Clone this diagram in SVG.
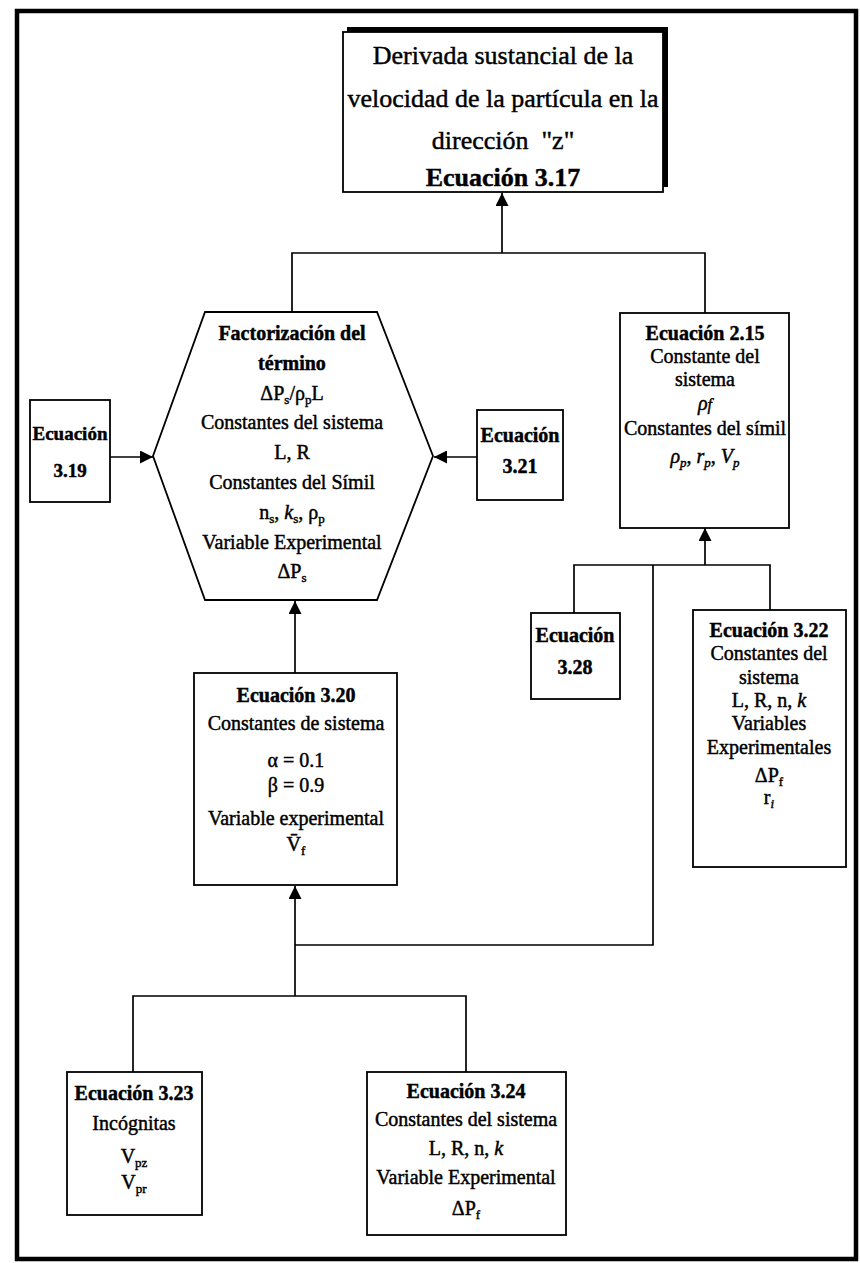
<svg xmlns="http://www.w3.org/2000/svg" width="860" height="1263" viewBox="0 0 860 1263">
  <defs>
    <marker id="arr" viewBox="0 0 10 10" refX="10" refY="5" markerWidth="16" markerHeight="13" markerUnits="userSpaceOnUse" orient="auto">
      <path d="M0,0 L10,5 L0,10 z" fill="#000"/>
    </marker>
    <style>
      .t { font-family: "Liberation Serif", "Times New Roman", serif; font-size: 20px; text-anchor: middle; fill: #000; stroke: #000; stroke-width: 0.45; }
      .b { font-weight: bold; }
      .h { font-size: 26px; }
      .box { fill: #fff; stroke: #000; stroke-width: 1.8; }
      .con { fill: none; stroke: #000; stroke-width: 1.7; }
      .s { font-size: 13px; }
      .i { font-style: italic; }
    </style>
  </defs>

  <rect x="0" y="0" width="860" height="1263" fill="#fff"/>
  <!-- outer frame -->
  <rect x="17" y="11" width="839" height="1248" fill="none" stroke="#000" stroke-width="4.5"/>

  <!-- connectors -->
  <g id="connectors">
    <path class="con" d="M502,253 V193" marker-end="url(#arr)"/>
    <path class="con" d="M292,312 V253 H705 V313"/>
    <path class="con" d="M110,457 H153" marker-end="url(#arr)"/>
    <path class="con" d="M477,457 H434" marker-end="url(#arr)"/>
    <path class="con" d="M705,565 V528" marker-end="url(#arr)"/>
    <path class="con" d="M574,613 V565 H770 V610"/>
    <path class="con" d="M653,565 V945 H295"/>
    <path class="con" d="M295,673 V601" marker-end="url(#arr)"/>
    <path class="con" d="M295,996 V886" marker-end="url(#arr)"/>
    <path class="con" d="M133,1072 V996 H466 V1072"/>
  </g>

  <!-- Ecuación 3.17 -->
  <g id="n317">
    <rect x="347" y="27" width="321" height="160" fill="#000"/>
    <rect class="box" x="343" y="32" width="320" height="160"/>
    <text class="t h" x="503" y="64">Derivada sustancial de la</text>
    <text class="t h" x="503" y="107">velocidad de la partícula en la</text>
    <text class="t h" x="503" y="149" xml:space="preserve">dirección  "z"</text>
    <text class="t h b" x="503" y="186">Ecuación 3.17</text>
  </g>

  <!-- Factorización (hexagon) -->
  <g id="nfact">
    <polygon class="box" points="205,312 377,312 433,456 377,600 205,600 153,456"/>
    <text class="t b" x="292" y="340">Factorización del</text>
    <text class="t b" x="292" y="370">término</text>
    <text class="t" x="292" y="400">ΔP<tspan class="s" dy="4">s</tspan><tspan dy="-4">/ρ</tspan><tspan class="s" dy="4">p</tspan><tspan dy="-4">L</tspan></text>
    <text class="t" x="292" y="429">Constantes del sistema</text>
    <text class="t" x="292" y="459">L, R</text>
    <text class="t" x="292" y="489">Constantes del Símil</text>
    <text class="t" x="292" y="519">n<tspan class="s" dy="4">s</tspan><tspan dy="-4">, </tspan><tspan class="i">k</tspan><tspan class="s" dy="4">s</tspan><tspan dy="-4">, ρ</tspan><tspan class="s" dy="4">p</tspan></text>
    <text class="t" x="292" y="549">Variable Experimental</text>
    <text class="t" x="292" y="578">ΔP<tspan class="s" dy="4">s</tspan></text>
  </g>

  <!-- Ecuación 3.19 -->
  <g id="n319">
    <rect class="box" x="30" y="400" width="80" height="102"/>
    <text class="t b" x="70" y="440" style="font-size:19px">Ecuación</text>
    <text class="t b" x="70" y="477" style="font-size:19px">3.19</text>
  </g>

  <!-- Ecuación 3.21 -->
  <g id="n321">
    <rect class="box" x="477" y="410" width="86" height="90"/>
    <text class="t b" x="520" y="442">Ecuación</text>
    <text class="t b" x="520" y="473">3.21</text>
  </g>

  <!-- Ecuación 2.15 -->
  <g id="n215">
    <rect class="box" x="620" y="313" width="169" height="215"/>
    <text class="t b" x="705" y="340">Ecuación 2.15</text>
    <text class="t" x="705" y="363">Constante del</text>
    <text class="t" x="705" y="386">sistema</text>
    <text class="t i" x="705" y="410">ρ<tspan style="font-size:16px">f</tspan></text>
    <text class="t" x="705" y="435">Constantes del símil</text>
    <text class="t" x="705" y="463"><tspan class="i">ρ</tspan><tspan class="s i" dy="4">p</tspan><tspan dy="-4">, </tspan><tspan class="i">r</tspan><tspan class="s i" dy="4">p</tspan><tspan dy="-4">, </tspan><tspan class="i">V</tspan><tspan class="s i" dy="4">p</tspan></text>
  </g>

  <!-- Ecuación 3.28 -->
  <g id="n328">
    <rect class="box" x="531" y="613" width="89" height="86"/>
    <text class="t b" x="575" y="642">Ecuación</text>
    <text class="t b" x="575" y="674">3.28</text>
  </g>

  <!-- Ecuación 3.22 -->
  <g id="n322">
    <rect class="box" x="693" y="610" width="153" height="257"/>
    <text class="t b" x="769" y="637">Ecuación 3.22</text>
    <text class="t" x="769" y="660">Constantes del</text>
    <text class="t" x="769" y="684">sistema</text>
    <text class="t" x="769" y="707">L, R, n, <tspan class="i">k</tspan></text>
    <text class="t" x="769" y="730">Variables</text>
    <text class="t" x="769" y="754">Experimentales</text>
    <text class="t" x="769" y="782">ΔP<tspan class="s" dy="4">f</tspan></text>
    <text class="t" x="769" y="804">r<tspan class="s i" dy="4">i</tspan></text>
  </g>

  <!-- Ecuación 3.20 -->
  <g id="n320">
    <rect class="box" x="194" y="673" width="203" height="212"/>
    <text class="t b" x="296" y="702">Ecuación 3.20</text>
    <text class="t" x="296" y="730">Constantes de sistema</text>
    <text class="t" x="296" y="767">α = 0.1</text>
    <text class="t" x="296" y="792">β = 0.9</text>
    <text class="t" x="296" y="825">Variable experimental</text>
    <text class="t" x="296" y="851">V̄<tspan class="s" dy="4">f</tspan></text>
  </g>

  <!-- Ecuación 3.23 -->
  <g id="n323">
    <rect class="box" x="67" y="1072" width="135" height="143"/>
    <text class="t b" x="134" y="1100">Ecuación 3.23</text>
    <text class="t" x="134" y="1130">Incógnitas</text>
    <text class="t" x="134" y="1163">V<tspan class="s" dy="4">pz</tspan></text>
    <text class="t" x="134" y="1189">V<tspan class="s" dy="4">pr</tspan></text>
  </g>

  <!-- Ecuación 3.24 -->
  <g id="n324">
    <rect class="box" x="367" y="1072" width="199" height="163"/>
    <text class="t b" x="466" y="1098">Ecuación 3.24</text>
    <text class="t" x="466" y="1126">Constantes del sistema</text>
    <text class="t" x="466" y="1155">L, R, n, <tspan class="i">k</tspan></text>
    <text class="t" x="466" y="1184">Variable Experimental</text>
    <text class="t" x="466" y="1215">ΔP<tspan class="s" dy="4">f</tspan></text>
  </g>
</svg>
